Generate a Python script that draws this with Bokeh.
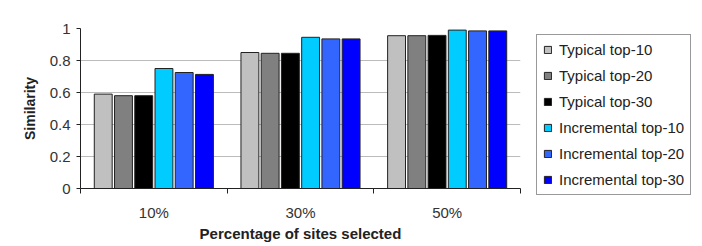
from bokeh.plotting import figure
from bokeh.models import (Range1d, FixedTicker, Legend, LegendItem)
from bokeh.embed import file_html
from bokeh.resources import INLINE

categories = ["10%", "30%", "50%"]
series_names = ["Typical top-10", "Typical top-20", "Typical top-30",
                "Incremental top-10", "Incremental top-20", "Incremental top-30"]
typical_top10 = [0.59, 0.85, 0.955]
typical_top20 = [0.58, 0.845, 0.955]
typical_top30 = [0.58, 0.845, 0.957]
incremental_top10 = [0.75, 0.945, 0.99]
incremental_top20 = [0.725, 0.935, 0.985]
incremental_top30 = [0.713, 0.935, 0.985]
y_ticks = [0, 0.2, 0.4, 0.6, 0.8, 1.0]
y_tick_labels = ["0", "0.2", "0.4", "0.6", "0.8", "1"]

series_values = [typical_top10, typical_top20, typical_top30,
                 incremental_top10, incremental_top20, incremental_top30]
colors = ["#C0C0C0", "#808080", "#000000", "#00CCFF", "#3366FF", "#0000FF"]

FONT = "Liberation Sans"

p = figure(frame_width=440, frame_height=160, output_backend="svg", toolbar_location=None,
           x_range=Range1d(0, len(categories)), y_range=Range1d(0, 1))
p.min_border_left = 80
p.min_border_right = 177
p.min_border_top = 28
p.min_border_bottom = 58
p.outline_line_color = None
p.background_fill_color = "white"
p.border_fill_color = "white"
p.styles = {"border-right": "3px solid #222222"}

centers = [i + 0.5 for i in range(len(categories))]
step = 0.138
bw = 0.122
renderers = []
for k, (vals, col) in enumerate(zip(series_values, colors)):
    xs = [c + (k - 2.5) * step for c in centers]
    r = p.vbar(x=xs, top=vals, width=bw, bottom=0, fill_color=col,
               line_color="#222222", line_width=1)
    renderers.append(r)

# x axis
xa = p.xaxis[0]
xa.ticker = FixedTicker(ticks=centers, minor_ticks=list(range(len(categories) + 1)))
xa.major_label_overrides = {c: lab for c, lab in zip(centers, categories)}
xa.major_tick_line_color = None
xa.major_tick_out = 0
xa.major_tick_in = 0
xa.minor_tick_out = 5
xa.minor_tick_in = 0
xa.minor_tick_line_color = "#222222"
xa.axis_line_color = "#222222"
xa.major_label_text_font = FONT
xa.major_label_text_font_size = "15px"
xa.major_label_text_color = "#333333"
xa.major_label_standoff = 10
xa.axis_label = "Percentage of sites selected"
xa.axis_label_text_font = FONT
xa.axis_label_text_font_style = "bold"
xa.axis_label_text_font_size = "15px"
xa.axis_label_text_color = "#222222"
xa.axis_label_standoff = 1

ya = p.yaxis[0]
ya.ticker = FixedTicker(ticks=y_ticks)
ya.major_label_overrides = {t: lab for t, lab in zip(y_ticks, y_tick_labels)}
ya.minor_tick_line_color = None
ya.major_tick_out = 4
ya.major_tick_in = 0
ya.major_tick_line_color = "#222222"
ya.axis_line_color = "#222222"
ya.major_label_text_font = FONT
ya.major_label_text_font_size = "15px"
ya.major_label_text_color = "#333333"
ya.major_label_standoff = 6
ya.axis_label = "Similarity"
ya.axis_label_text_font = FONT
ya.axis_label_text_font_style = "bold"
ya.axis_label_text_font_size = "14px"
ya.axis_label_text_color = "#222222"
ya.axis_label_standoff = 9

p.xgrid.grid_line_color = None
p.ygrid.grid_line_color = "#BBBBBB"
p.ygrid.ticker = FixedTicker(ticks=y_ticks)

legend = Legend(items=[LegendItem(label=n, renderers=[r]) for n, r in zip(series_names, renderers)],
                location=(16, -7), margin=0, padding=6, spacing=9,
                glyph_width=9, glyph_height=9, label_height=14, label_standoff=7,
                label_text_font=FONT, label_text_font_size="15px",
                label_text_color="#222222",
                border_line_color="#333333", border_line_width=1,
                background_fill_color="white")
p.add_layout(legend, "right")

open("out.html", "w").write(file_html(p, INLINE))
